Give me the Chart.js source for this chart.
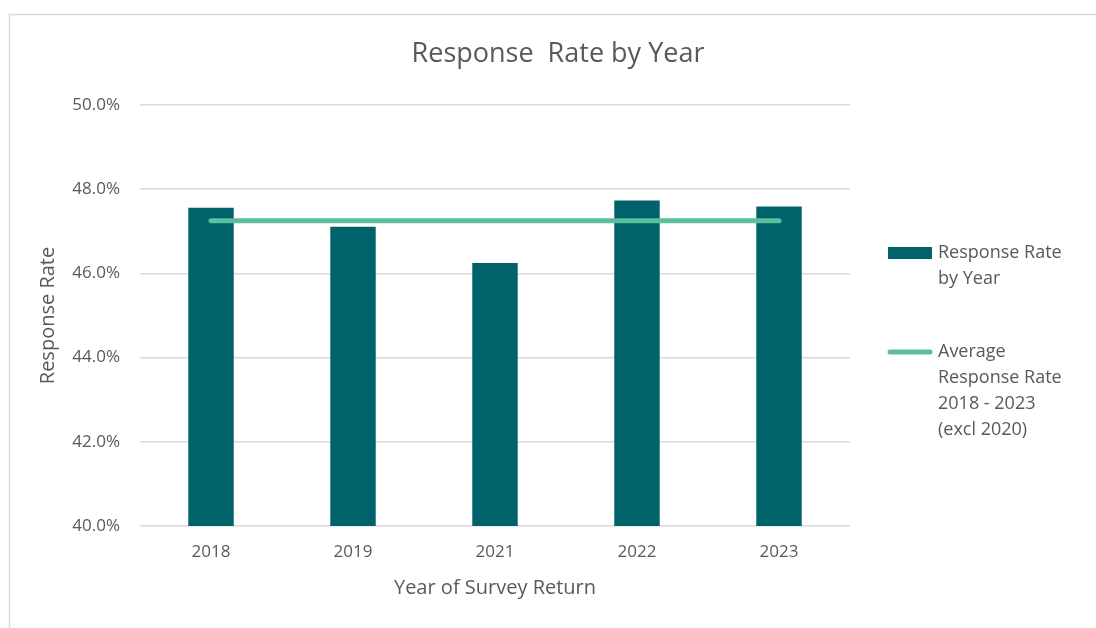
<!DOCTYPE html>
<html>
<head>
<meta charset="utf-8">
<script src="https://cdn.jsdelivr.net/npm/chart.js@4.4.1/dist/chart.umd.min.js"></script>
<style>
  html, body { margin: 0; padding: 0; background: #fff; }
  #wrap { width: 1096px; height: 628px; position: relative; }
</style>
</head>
<body>
<div id="wrap"><canvas id="chart-response" width="1096" height="628"></canvas></div>
<script>
// chart data
const years = ['2018', '2019', '2021', '2022', '2023'];
const responseRate = [47.56, 47.11, 46.25, 47.73, 47.59];
const averageRate = [47.25, 47.25, 47.25, 47.25, 47.25];
const yTicks = [40, 42, 44, 46, 48, 50];
const chartTitle = 'Response  Rate by Year';
const barLabel = ['Response Rate', 'by Year'];
const lineLabel = ['Average', 'Response Rate', '2018 - 2023', '(excl 2020)'];

const FONT = '"Open Sans", "Noto Sans", sans-serif';
const TEXT = '#595959';
const BAR = '#00626A';
const LINE = '#5BBF9F';

// light frame + centred title (title centred on the whole canvas, not the plot)
const framePlugin = {
	id: 'frame',
	beforeDraw(chart) {
		const ctx = chart.ctx;
		ctx.save();
		ctx.strokeStyle = '#d9d9d9';
		ctx.lineWidth = 1.5;
		ctx.strokeRect(9.5, 14.5, 1200, 700);
		ctx.font = '27px ' + FONT;
		ctx.fillStyle = TEXT;
		ctx.textAlign = 'center';
		ctx.textBaseline = 'middle';
		ctx.fillText(chartTitle, chart.width / 2 + 10, 54);
		ctx.restore();
	}
};

// legend on the right with wrapped labels
const sideLegend = {
	id: 'sideLegend',
	afterDraw(chart) {
		const ctx = chart.ctx;
		const x0 = chart.chartArea.right + 38;
		ctx.save();
		ctx.font = '18px ' + FONT;
		ctx.textBaseline = 'middle';
		ctx.textAlign = 'left';

		let y = 253;
		ctx.fillStyle = chart.data.datasets[0].backgroundColor;
		ctx.fillRect(x0, y - 6, 44, 12);
		ctx.fillStyle = TEXT;
		barLabel.forEach((t, i) => ctx.fillText(t, x0 + 50, y + i * 26));

		y = 352;
		ctx.strokeStyle = chart.data.datasets[1].borderColor;
		ctx.lineWidth = 5;
		ctx.lineCap = 'round';
		ctx.beginPath();
		ctx.moveTo(x0 + 2, y);
		ctx.lineTo(x0 + 42, y);
		ctx.stroke();
		lineLabel.forEach((t, i) => ctx.fillText(t, x0 + 50, y + i * 26));
		ctx.restore();
	}
};

let ctx = document.getElementById('chart-response');
let chart = new Chart(ctx, {
	type: 'bar',
	data: {
		labels: years,
		datasets: [
			{
				type: 'bar',
				label: barLabel.join(' '),
				data: responseRate,
				backgroundColor: BAR,
				barPercentage: 0.32,
				categoryPercentage: 1,
				order: 1
			},
			{
				type: 'line',
				label: lineLabel.join(' '),
				data: averageRate,
				borderColor: LINE,
				borderWidth: 5,
				borderCapStyle: 'round',
				pointRadius: 0,
				fill: false,
				order: 0
			}
		]
	},
	options: {
		responsive: false,
		animation: false,
		devicePixelRatio: 1,
		layout: { padding: { left: 30, right: 246, top: 105, bottom: 20 } },
		plugins: {
			legend: { display: false },
			tooltip: { enabled: false },
			title: { display: false }
		},
		scales: {
			x: {
				afterFit(scale) { scale.height = 628 - 20 - 526; },
				grid: { display: false, drawTicks: false },
				border: { display: false },
				ticks: { color: TEXT, font: { family: FONT, size: 17 }, padding: 16 },
				title: {
					display: true,
					text: 'Year of Survey Return',
					color: TEXT,
					font: { family: FONT, size: 20 },
					padding: { top: 4, bottom: 8 }
				}
			},
			y: {
				min: 40,
				max: 50,
				afterFit(scale) { scale.width = 140 - 30; },
				afterBuildTicks(scale) {
					scale.ticks = yTicks.map(v => ({ value: v }));
				},
				grid: { color: '#d9d9d9', lineWidth: 1.5, drawTicks: false },
				border: { display: false },
				ticks: {
					color: TEXT,
					font: { family: FONT, size: 17 },
					padding: 20,
					callback: v => v.toFixed(1) + '%'
				},
				title: {
					display: true,
					text: 'Response Rate',
					color: TEXT,
					font: { family: FONT, size: 20 },
					padding: { top: 6, bottom: 4 }
				}
			}
		}
	},
	plugins: [framePlugin, sideLegend]
});
</script>
</body>
</html>
